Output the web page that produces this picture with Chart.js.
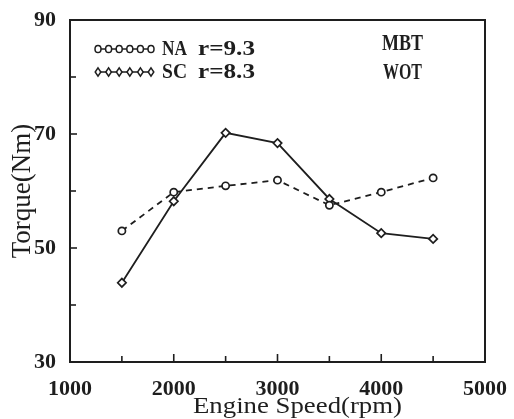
<!DOCTYPE html>
<html><head><meta charset="utf-8">
<script src="https://cdn.jsdelivr.net/npm/chart.js@4"></script>
<style>html,body{margin:0;padding:0;background:#fff}#c{display:block}</style>
</head><body>
<canvas id="c" width="514" height="419"></canvas>
<script>
const speeds = [1500, 2000, 2500, 3000, 3500, 4000, 4500];
const naTorque = [53.0, 59.8, 60.9, 61.9, 57.5, 59.8, 62.3];
const scTorque = [43.9, 58.2, 70.2, 68.4, 58.6, 52.6, 51.6];
const xLabels = [1000, 2000, 3000, 4000, 5000];
const yLabels = [30, 50, 70, 90];
const seriesNames = ['NA', 'SC'];
const seriesRatios = ['r=9.3', 'r=8.3'];
const notes = ['MBT', 'WOT'];
const xTitle = 'Engine Speed(rpm)';
const yTitle = 'Torque(Nm)';

const ink = '#1e1e1e';
const serif = '"Liberation Serif", "DejaVu Serif", serif';

function stretchText(ctx, text, x, y, width, sy) {
  const w = ctx.measureText(text).width;
  ctx.save();
  ctx.translate(x, y);
  ctx.scale(width / w, sy || 1);
  ctx.fillText(text, 0, 0);
  ctx.restore();
}

const boxPlugin = {
  id: 'box',
  afterDraw(chart) {
    const {ctx, chartArea: a, scales} = chart;
    ctx.save();
    ctx.strokeStyle = ink;
    ctx.lineWidth = 2;
    ctx.strokeRect(a.left, a.top, a.right - a.left, a.bottom - a.top);
    ctx.lineWidth = 1.6;
    for (let v = 1500; v < 5000; v += 500) {
      const x = scales.x.getPixelForValue(v);
      const len = v % 1000 === 0 ? 8 : 6;
      ctx.beginPath(); ctx.moveTo(x, a.bottom); ctx.lineTo(x, a.bottom - len); ctx.stroke();
    }
    for (let v = 40; v < 90; v += 10) {
      const y = scales.y.getPixelForValue(v);
      const len = v % 20 === 10 ? 7 : 6;
      ctx.beginPath(); ctx.moveTo(a.left, y); ctx.lineTo(a.left + len, y); ctx.stroke();
    }
    // legend
    const ys = [49, 72];
    for (let i = 0; i < 2; i++) {
      const y = ys[i];
      ctx.lineWidth = 1.5;
      ctx.beginPath(); ctx.moveTo(98, y); ctx.lineTo(151, y); ctx.stroke();
      for (let k = 0; k < 6; k++) {
        const x = 98 + k * 10.6;
        ctx.fillStyle = '#fff';
        ctx.beginPath();
        if (i === 0) {
          ctx.ellipse(x, y, 3, 3.6, 0, 0, Math.PI * 2);
        } else {
          ctx.moveTo(x, y - 4.2); ctx.lineTo(x + 2.8, y); ctx.lineTo(x, y + 4.2); ctx.lineTo(x - 2.8, y); ctx.closePath();
        }
        ctx.fill(); ctx.stroke();
      }
      ctx.fillStyle = ink;
      ctx.font = 'bold 20px ' + serif;
      ctx.textBaseline = 'middle';
      ctx.textAlign = 'left';
      stretchText(ctx, seriesNames[i], 162, y + 1, 25, 1);
      stretchText(ctx, seriesRatios[i], 198, y + 1, 57, 1);
    }
    ctx.font = 'bold 18px ' + serif;
    stretchText(ctx, notes[0], 382, 44, 41, 1.3);
    stretchText(ctx, notes[1], 383, 73, 39, 1.3);
    // x title
    ctx.font = '24px ' + serif;
    stretchText(ctx, xTitle, 193, 407, 209, 1);
    ctx.restore();
  }
};

new Chart(document.getElementById('c'), {
  type: 'line',
  data: {
    datasets: [
      {
        label: seriesNames[0] + ' ' + seriesRatios[0],
        data: speeds.map((s, i) => ({x: s, y: naTorque[i]})),
        borderColor: ink, borderWidth: 1.8, borderDash: [6, 5],
        pointStyle: 'circle', pointRadius: 3.6, pointBorderWidth: 1.7,
        pointBackgroundColor: '#fff', pointBorderColor: ink, tension: 0
      },
      {
        label: seriesNames[1] + ' ' + seriesRatios[1],
        data: speeds.map((s, i) => ({x: s, y: scTorque[i]})),
        borderColor: ink, borderWidth: 1.8,
        pointStyle: 'rectRot', pointRadius: 4.2, pointBorderWidth: 1.7,
        pointBackgroundColor: '#fff', pointBorderColor: ink, tension: 0
      }
    ]
  },
  options: {
    responsive: false, animation: false,
    layout: {padding: {top: 20, right: 25, left: 0, bottom: 0}},
    plugins: {legend: {display: false}, tooltip: {enabled: false}},
    scales: {
      x: {
        type: 'linear', min: 1000, max: 5000,
        afterFit: s => { s.height = 57; },
        afterBuildTicks: s => { s.ticks = xLabels.map(v => ({value: v})); },
        grid: {display: false},
        border: {display: false},
        ticks: {color: ink, font: {family: serif, size: 22, weight: 'bold', lineHeight: 1.1}, padding: 7, maxRotation: 0, autoSkip: false,
                callback: v => String(v)},
        title: {display: false}
      },
      y: {
        min: 30, max: 90,
        afterFit: s => { s.width = 70; },
        afterBuildTicks: s => { s.ticks = yLabels.map(v => ({value: v})); },
        grid: {display: false},
        border: {display: false},
        ticks: {color: ink, font: {family: serif, size: 22, weight: 'bold'}, padding: 6, callback: v => String(v)},
        title: {display: true, text: yTitle, color: ink, font: {family: serif, size: 27, lineHeight: 1}, padding: {top: 9, bottom: 0}}
      }
    }
  },
  plugins: [boxPlugin]
});
</script>
</body></html>
